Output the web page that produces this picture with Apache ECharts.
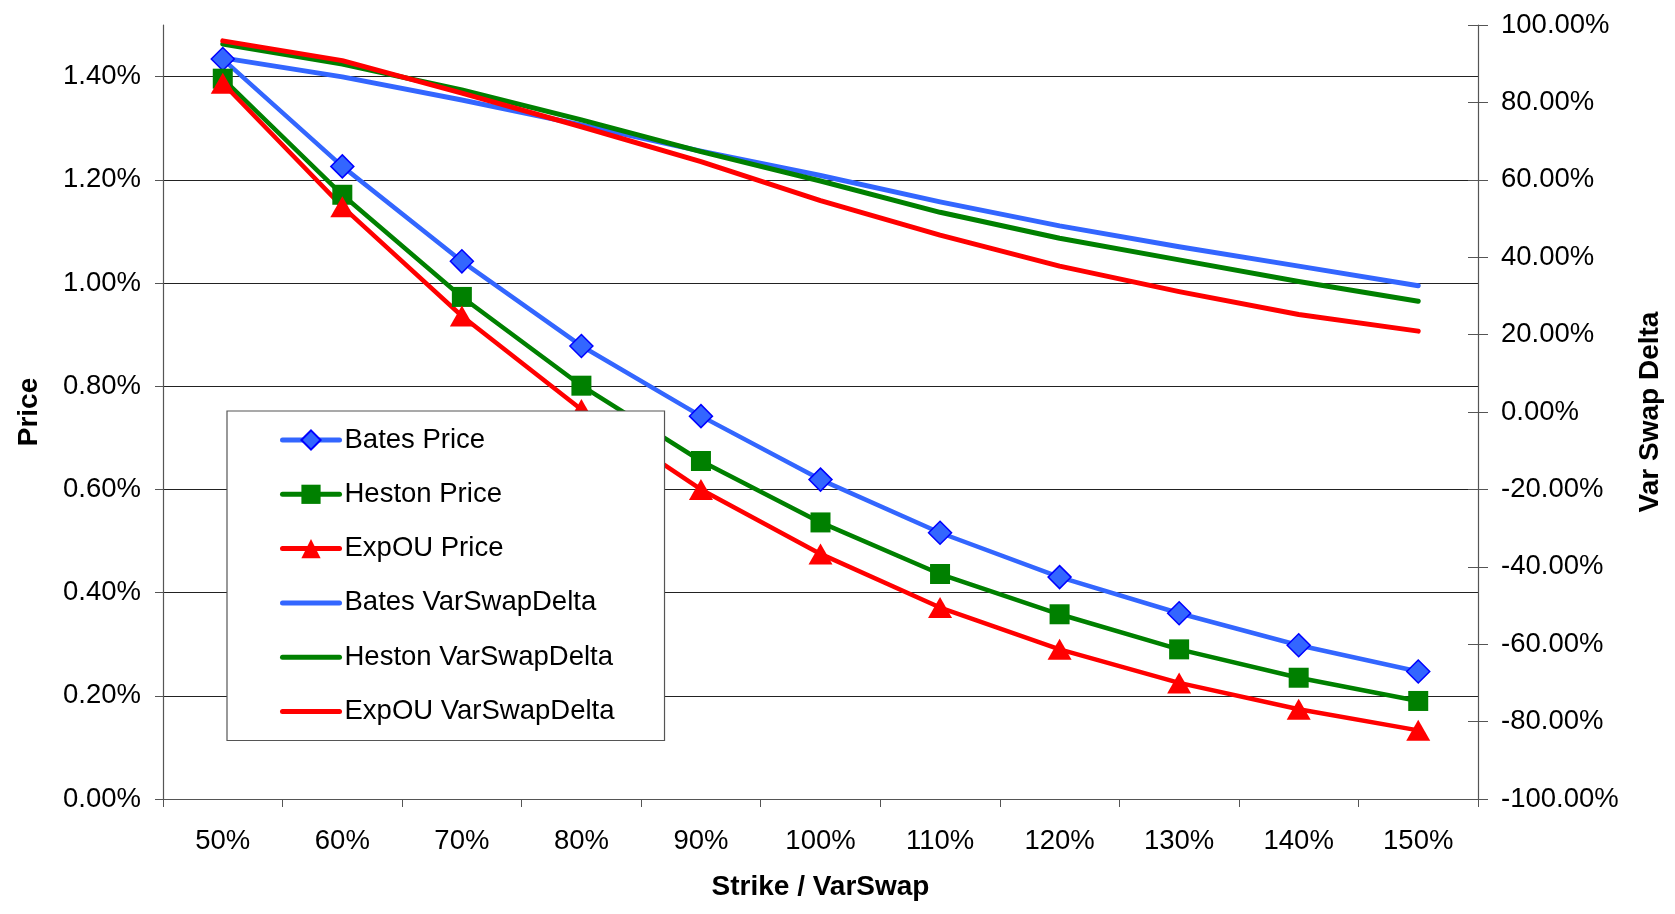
<!DOCTYPE html>
<html>
<head>
<meta charset="utf-8">
<title>Price and VarSwap Delta by Strike</title>
<script src="https://cdn.jsdelivr.net/npm/echarts@6/dist/echarts.min.js"></script>
<style>
  html, body { margin: 0; padding: 0; background: #fff; }
  #chart { width: 1675px; height: 914px; }
</style>
</head>
<body>
<div id="chart"></div>
<script>
// Strike levels (as % of the variance swap strike)
const strikes = ['50%', '60%', '70%', '80%', '90%', '100%', '110%', '120%', '130%', '140%', '150%'];

// Option prices, in percent (left axis)
const batesPrice  = [1.434, 1.226, 1.042, 0.878, 0.742, 0.619, 0.516, 0.430, 0.360, 0.298, 0.247];
const hestonPrice = [1.396, 1.171, 0.973, 0.801, 0.655, 0.536, 0.436, 0.358, 0.290, 0.235, 0.190];
const expouPrice  = [1.387, 1.148, 0.936, 0.755, 0.600, 0.475, 0.371, 0.290, 0.225, 0.174, 0.133];

// Variance swap deltas, in percent (right axis)
const batesDelta  = [91.5, 86.6, 80.6, 74.2, 67.4, 61.1, 54.3, 48.1, 42.7, 37.7, 32.6];
const hestonDelta = [95.1, 89.9, 83.2, 75.5, 67.3, 59.7, 51.6, 44.9, 39.3, 33.7, 28.6];
const expouDelta  = [95.9, 90.8, 82.4, 73.7, 64.7, 54.6, 45.7, 37.7, 31.1, 25.2, 20.9];

// Tick values for the price axis (no tick at the axis top)
const priceTicks = [0, 0.2, 0.4, 0.6, 0.8, 1.0, 1.2, 1.4];

const FONT = "'Liberation Sans', Arial, sans-serif";
const BLUE = '#3366FF', GREEN = '#008000', RED = '#FF0000';
const AXIS_GREY = '#555';

const chart = echarts.init(document.getElementById('chart'), null, { renderer: 'canvas' });

const labelStyle = { color: '#000', fontFamily: FONT, fontSize: 27.5 };
const nameStyle = { color: '#000', fontFamily: FONT, fontSize: 28, fontWeight: 'bold' };

// legend entry: delta series show only their line
const lineOnly = (name, color) => ({
  name: name,
  itemStyle: { opacity: 0 },
  lineStyle: { color: color, width: 5, cap: 'round' }
});
const withMarker = (name, color) => ({
  name: name,
  lineStyle: { color: color, width: 5, cap: 'round' }
});

chart.setOption({
  animation: false,
  backgroundColor: '#fff',
  grid: { left: 163, right: 197, top: 25, bottom: 115, containLabel: false },
  legend: {
    orient: 'vertical',
    left: 227,
    top: 411,
    padding: [15, 50, 15, 53],
    itemWidth: 57,
    itemHeight: 24,
    itemGap: 26.3,
    backgroundColor: '#fff',
    borderColor: '#555',
    borderWidth: 1.2,
    textStyle: { color: '#000', fontFamily: FONT, fontSize: 27.5, lineHeight: 28 },
    data: [
      withMarker('Bates Price', BLUE),
      withMarker('Heston Price', GREEN),
      withMarker('ExpOU Price', RED),
      lineOnly('Bates VarSwapDelta', BLUE),
      lineOnly('Heston VarSwapDelta', GREEN),
      lineOnly('ExpOU VarSwapDelta', RED)
    ]
  },
  xAxis: {
    type: 'category',
    data: strikes,
    boundaryGap: true,
    name: 'Strike / VarSwap',
    nameLocation: 'middle',
    nameGap: 74,
    nameTextStyle: nameStyle,
    axisLine: { lineStyle: { color: AXIS_GREY, width: 1.2 } },
    axisTick: { show: true, inside: false, length: 8, lineStyle: { color: AXIS_GREY } },
    axisLabel: Object.assign({ margin: 28, interval: 0 }, labelStyle),
    splitLine: { show: false }
  },
  yAxis: [
    {
      type: 'value',
      position: 'left',
      min: 0,
      max: 1.5,
      interval: 0.2,
      name: 'Price',
      nameLocation: 'middle',
      nameRotate: 90,
      nameGap: 120,
      nameTextStyle: nameStyle,
      axisLine: { show: true, lineStyle: { color: AXIS_GREY, width: 1.2 } },
      axisTick: { show: true, inside: false, length: 8, lineStyle: { color: AXIS_GREY }, customValues: priceTicks },
      axisLabel: Object.assign({
        margin: 22,
        customValues: priceTicks,
        formatter: v => v.toFixed(2) + '%'
      }, labelStyle),
      splitLine: { show: true, lineStyle: { color: '#222', width: 1.2 } }
    },
    {
      type: 'value',
      position: 'right',
      min: -100,
      max: 100,
      interval: 20,
      name: 'Var Swap Delta',
      nameLocation: 'middle',
      nameRotate: 90,
      nameGap: 158,
      nameTextStyle: nameStyle,
      axisLine: { show: true, lineStyle: { color: AXIS_GREY, width: 1.2 } },
      axisTick: { show: true, inside: false, length: 10, lineStyle: { color: AXIS_GREY } },
      axisLabel: Object.assign({
        margin: 23,
        formatter: v => v.toFixed(2) + '%'
      }, labelStyle),
      splitLine: { show: false }
    },
    {
      // inner half of the crossing ticks on the delta axis
      type: 'value',
      position: 'right',
      min: -100,
      max: 100,
      interval: 20,
      axisLine: { show: false },
      axisTick: { show: true, inside: true, length: 10, lineStyle: { color: AXIS_GREY } },
      axisLabel: { show: false },
      splitLine: { show: false }
    }
  ],
  series: [
    {
      name: 'Bates VarSwapDelta', type: 'line', yAxisIndex: 1, data: batesDelta,
      symbol: 'none', z: 2,
      lineStyle: { color: BLUE, width: 5, cap: 'round', join: 'round' },
      itemStyle: { color: BLUE }
    },
    {
      name: 'Heston VarSwapDelta', type: 'line', yAxisIndex: 1, data: hestonDelta,
      symbol: 'none', z: 2,
      lineStyle: { color: GREEN, width: 5, cap: 'round', join: 'round' },
      itemStyle: { color: GREEN }
    },
    {
      name: 'ExpOU VarSwapDelta', type: 'line', yAxisIndex: 1, data: expouDelta,
      symbol: 'none', z: 2,
      lineStyle: { color: RED, width: 5, cap: 'round', join: 'round' },
      itemStyle: { color: RED }
    },
    {
      name: 'Bates Price', type: 'line', yAxisIndex: 0, data: batesPrice,
      symbol: 'diamond', symbolSize: [23, 23], showAllSymbol: true, z: 3,
      lineStyle: { color: BLUE, width: 4.5, cap: 'round', join: 'round' },
      itemStyle: { color: BLUE, borderColor: '#0000FF', borderWidth: 1.5 }
    },
    {
      name: 'Heston Price', type: 'line', yAxisIndex: 0, data: hestonPrice,
      symbol: 'rect', symbolSize: [20, 20], showAllSymbol: true, z: 3,
      lineStyle: { color: GREEN, width: 4.5, cap: 'round', join: 'round' },
      itemStyle: { color: GREEN, borderColor: GREEN, borderWidth: 0 }
    },
    {
      name: 'ExpOU Price', type: 'line', yAxisIndex: 0, data: expouPrice,
      symbol: 'triangle', symbolSize: [24, 21], showAllSymbol: true, z: 3,
      lineStyle: { color: RED, width: 4.5, cap: 'round', join: 'round' },
      itemStyle: { color: RED, borderColor: RED, borderWidth: 0 }
    }
  ]
});
</script>
</body>
</html>
